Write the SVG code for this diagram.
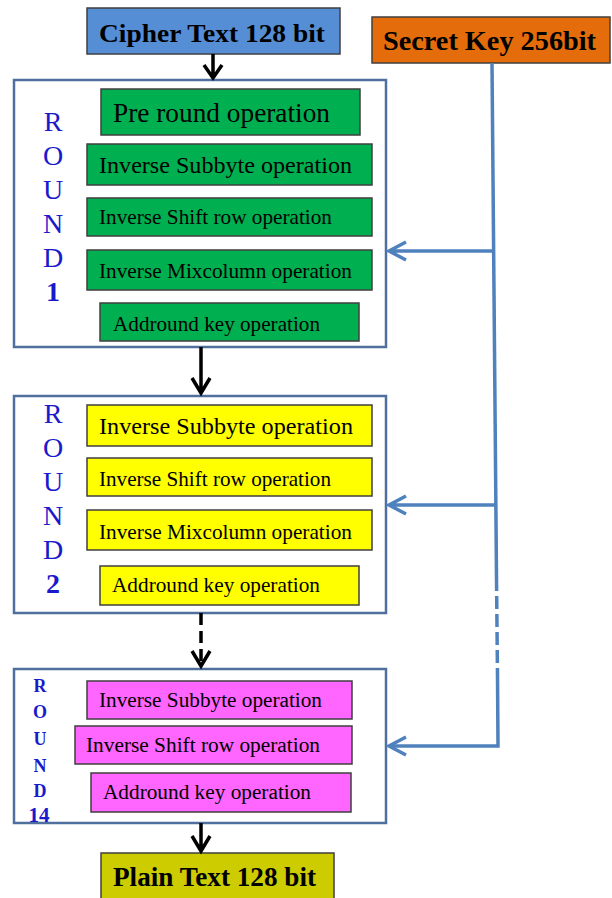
<svg xmlns="http://www.w3.org/2000/svg" width="612" height="898" viewBox="0 0 612 898">
<defs>
<style>
.op{stroke:#3f3f3f;stroke-width:1.5}
.g{fill:#00b050}.y{fill:#ffff00}.m{fill:#ff66ff}
.t{font-family:"Liberation Serif","Times New Roman",serif;fill:#000}
.b{font-weight:bold}
.rb{fill:#fff;stroke:#4f6f9f;stroke-width:2.5}
.lt{font-family:"Liberation Serif","Times New Roman",serif;fill:#1a1acc;text-anchor:middle}
.ka{fill:none;stroke:#000;stroke-width:3.5}
.bl{fill:none;stroke:#4f81bd;stroke-width:3.5}
</style>
</defs>
<rect width="612" height="898" fill="#fff"/>

<g id="cipher">
<rect x="87" y="8" width="253" height="46" fill="#558ed5" class="op"/>
<text x="99" y="42" class="t b" font-size="26" textLength="226" lengthAdjust="spacingAndGlyphs">Cipher Text 128 bit</text>
</g>
<g id="secret">
<rect x="372" y="17" width="238" height="46" fill="#e46c0a" class="op"/>
<text x="383" y="50" class="t b" font-size="27" textLength="213" lengthAdjust="spacingAndGlyphs">Secret Key 256bit</text>
</g>

<g id="round1">
<rect x="14" y="80" width="372" height="267" class="rb"/>
<text class="lt" font-size="28" x="53" y="131">R</text>
<text class="lt" font-size="28" x="53" y="165">O</text>
<text class="lt" font-size="28" x="53" y="199">U</text>
<text class="lt" font-size="28" x="53" y="233">N</text>
<text class="lt" font-size="28" x="53" y="267">D</text>
<text class="lt b" font-size="28" x="53" y="301">1</text>
<rect x="101" y="89" width="259" height="46" class="op g"/>
<text x="113" y="122" class="t" font-size="27" textLength="217" lengthAdjust="spacingAndGlyphs">Pre round operation</text>
<rect x="87" y="144" width="285" height="41" class="op g"/>
<text x="99" y="173" class="t" font-size="24" textLength="253" lengthAdjust="spacingAndGlyphs">Inverse Subbyte operation</text>
<rect x="87" y="198" width="285" height="38" class="op g"/>
<text x="99" y="224" class="t" font-size="21" textLength="233" lengthAdjust="spacingAndGlyphs">Inverse Shift row operation</text>
<rect x="87" y="250" width="285" height="40" class="op g"/>
<text x="99" y="278" class="t" font-size="22" textLength="253" lengthAdjust="spacingAndGlyphs">Inverse Mixcolumn operation</text>
<rect x="100" y="303" width="259" height="38" class="op g"/>
<text x="113" y="331" class="t" font-size="22" textLength="207" lengthAdjust="spacingAndGlyphs">Addround key operation</text>
</g>

<g id="round2">
<rect x="14" y="396" width="372" height="217" class="rb"/>
<text class="lt" font-size="28" x="53" y="423">R</text>
<text class="lt" font-size="28" x="53" y="457">O</text>
<text class="lt" font-size="28" x="53" y="491">U</text>
<text class="lt" font-size="28" x="53" y="525">N</text>
<text class="lt" font-size="28" x="53" y="559">D</text>
<text class="lt b" font-size="28" x="53" y="593">2</text>
<rect x="87" y="405" width="285" height="41" class="op y"/>
<text x="99" y="434" class="t" font-size="24" textLength="254" lengthAdjust="spacingAndGlyphs">Inverse Subbyte operation</text>
<rect x="87" y="458" width="285" height="38" class="op y"/>
<text x="99" y="486" class="t" font-size="21" textLength="232" lengthAdjust="spacingAndGlyphs">Inverse Shift row operation</text>
<rect x="87" y="510" width="285" height="40" class="op y"/>
<text x="99" y="539" class="t" font-size="22" textLength="253" lengthAdjust="spacingAndGlyphs">Inverse Mixcolumn operation</text>
<rect x="100" y="566" width="259" height="39" class="op y"/>
<text x="112" y="592" class="t" font-size="22" textLength="208" lengthAdjust="spacingAndGlyphs">Addround key operation</text>
</g>

<g id="round14">
<rect x="14" y="669" width="372" height="154" class="rb"/>
<text class="lt b" font-size="18" x="40" y="692">R</text>
<text class="lt b" font-size="18" x="40" y="718">O</text>
<text class="lt b" font-size="18" x="40" y="745">U</text>
<text class="lt b" font-size="18" x="40" y="772">N</text>
<text class="lt b" font-size="18" x="40" y="797">D</text>
<text class="lt b" font-size="21" x="39" y="822">14</text>
<rect x="87" y="681" width="265" height="38" class="op m"/>
<text x="99" y="707" class="t" font-size="20" textLength="223" lengthAdjust="spacingAndGlyphs">Inverse Subbyte operation</text>
<rect x="75" y="726" width="277" height="38" class="op m"/>
<text x="86" y="752" class="t" font-size="20" textLength="234" lengthAdjust="spacingAndGlyphs">Inverse Shift row operation</text>
<rect x="91" y="773" width="260" height="39" class="op m"/>
<text x="103" y="799" class="t" font-size="20" textLength="208" lengthAdjust="spacingAndGlyphs">Addround key operation</text>
</g>

<g id="plain">
<rect x="101" y="853" width="233" height="50" fill="#cccc00" class="op"/>
<text x="113" y="886" class="t b" font-size="27" textLength="203" lengthAdjust="spacingAndGlyphs">Plain Text 128 bit</text>
</g>

<g id="connectors">
<path class="ka" d="M213 54V78M204 65L213 78L222 65"/>
<path class="ka" d="M201 347V393M192 378L201 393L210 378"/>
<path class="ka" d="M201 613V666" stroke-dasharray="12 6"/>
<path class="ka" d="M192 651L201 666L210 651"/>
<path class="ka" d="M201 823V851M192 836L201 851L210 836"/>
<path class="bl" d="M492 63L496.5 578"/>
<path class="bl" d="M496.5 578L497.5 676" stroke-dasharray="13 5"/>
<path class="bl" d="M497.5 676L498 746H389"/>
<path class="bl" d="M495 251H389M406 242L389 251L406 260"/>
<path class="bl" d="M497 505H389M406 496L389 505L406 514"/>
<path class="bl" d="M406 737L389 746L406 755"/>
</g>
</svg>
